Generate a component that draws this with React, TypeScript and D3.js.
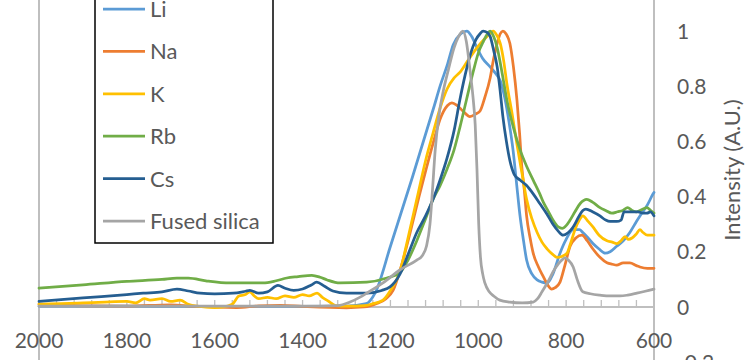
import React from "react";
import * as d3 from "d3";

type Pt = [number, number];

const seriesNames = ["Li", "Na", "K", "Rb", "Cs", "Fused silica"];
const seriesColors = ["#5B9BD5", "#ED7D31", "#FFC000", "#70AD47", "#255E91", "#A5A5A5"];

const xTickLabels = [2000, 1800, 1600, 1400, 1200, 1000, 800, 600];
const yTickLabels = [-0.2, 0, 0.2, 0.4, 0.6, 0.8, 1];

const liPoints: Pt[] = [
  [2000, 0.003], [1800, 0.003], [1600, 0.002], [1400, 0.002], [1300, 0.003], [1255, 0.012],
  [1235, 0.05], [1200, 0.22], [1150, 0.47], [1100, 0.73], [1087, 0.8], [1070, 0.88], [1057, 0.95],
  [1040, 0.99], [1026, 1.0], [1015, 0.98], [1003, 0.94], [990, 0.9], [973, 0.87], [960, 0.845],
  [950, 0.82], [940, 0.76], [930, 0.67], [921, 0.57], [913, 0.45], [905, 0.33], [897, 0.24],
  [890, 0.17], [878, 0.12], [866, 0.098], [855, 0.09], [843, 0.087], [830, 0.12], [814, 0.195],
  [800, 0.245], [784, 0.28], [770, 0.28], [762, 0.27], [750, 0.25], [739, 0.23], [725, 0.21],
  [711, 0.195], [700, 0.2], [685, 0.22], [670, 0.24], [655, 0.27], [640, 0.31], [632, 0.33],
  [615, 0.37], [602, 0.41], [600, 0.415],
];

const naPoints: Pt[] = [
  [2000, 0.01], [1900, 0.004], [1800, 0.003], [1700, 0.008], [1650, 0.003], [1550, -0.002],
  [1500, 0.004], [1450, 0.006], [1400, 0.002], [1300, -0.003], [1260, 0.0], [1231, 0.013],
  [1210, 0.03], [1194, 0.06], [1175, 0.15], [1155, 0.27], [1135, 0.4], [1117, 0.51], [1100, 0.61],
  [1087, 0.68], [1070, 0.73], [1060, 0.74], [1048, 0.73], [1035, 0.71], [1019, 0.69], [1005, 0.7],
  [996, 0.71], [985, 0.76], [973, 0.83], [965, 0.9], [957, 0.955], [950, 0.99], [944, 1.0],
  [937, 0.99], [928, 0.955], [920, 0.87], [912, 0.75], [906, 0.63], [901, 0.51], [895, 0.42],
  [890, 0.33], [882, 0.25], [875, 0.195], [863, 0.145], [852, 0.11], [842, 0.08], [833, 0.065],
  [825, 0.07], [814, 0.09], [803, 0.15], [791, 0.22], [778, 0.25], [764, 0.26], [752, 0.24],
  [739, 0.21], [723, 0.18], [707, 0.16], [695, 0.155], [685, 0.152], [670, 0.16], [655, 0.16],
  [640, 0.15], [632, 0.145], [615, 0.14], [600, 0.14],
];

const kPoints: Pt[] = [
  [2000, 0.01], [1950, 0.012], [1900, 0.015], [1850, 0.018], [1800, 0.02], [1780, 0.015],
  [1760, 0.03], [1747, 0.025], [1720, 0.03], [1700, 0.02], [1679, 0.025], [1660, 0.01],
  [1640, 0.003], [1600, -0.002], [1580, 0.0], [1560, 0.01], [1545, 0.04], [1530, 0.045],
  [1520, 0.055], [1510, 0.04], [1500, 0.03], [1480, 0.035], [1460, 0.03], [1440, 0.04],
  [1420, 0.035], [1400, 0.045], [1385, 0.04], [1367, 0.05], [1355, 0.035], [1340, 0.02],
  [1325, 0.005], [1300, 0.003], [1260, 0.005], [1240, 0.012], [1217, 0.025], [1200, 0.06],
  [1178, 0.13], [1160, 0.25], [1140, 0.39], [1120, 0.53], [1103, 0.63], [1087, 0.72], [1071, 0.79],
  [1055, 0.83], [1042, 0.85], [1025, 0.89], [1012, 0.92], [995, 0.955], [980, 0.98], [966, 1.0],
  [958, 0.985], [950, 0.955], [942, 0.89], [935, 0.81], [923, 0.7], [912, 0.59], [900, 0.48],
  [890, 0.39], [878, 0.32], [866, 0.27], [855, 0.235], [843, 0.21], [830, 0.19], [821, 0.18],
  [810, 0.183], [798, 0.195], [790, 0.23], [780, 0.28], [770, 0.315], [762, 0.33], [750, 0.31],
  [739, 0.29], [725, 0.26], [707, 0.24], [695, 0.235], [685, 0.23], [675, 0.24], [666, 0.255],
  [658, 0.245], [650, 0.25], [640, 0.265], [632, 0.28], [625, 0.27], [615, 0.26], [600, 0.26],
];

const rbPoints: Pt[] = [
  [2000, 0.068], [1900, 0.08], [1800, 0.093], [1720, 0.1], [1686, 0.105], [1660, 0.105],
  [1620, 0.095], [1565, 0.087], [1520, 0.087], [1490, 0.087], [1460, 0.095], [1436, 0.105],
  [1410, 0.11], [1379, 0.115], [1360, 0.108], [1344, 0.098], [1315, 0.087], [1254, 0.09],
  [1208, 0.105], [1178, 0.125], [1160, 0.17], [1140, 0.24], [1120, 0.32], [1103, 0.39],
  [1087, 0.44], [1071, 0.5], [1055, 0.57], [1042, 0.65], [1027, 0.75], [1012, 0.85], [1000, 0.92],
  [989, 0.96], [973, 1.0], [965, 0.98], [957, 0.94], [946, 0.85], [935, 0.75], [920, 0.65],
  [905, 0.57], [890, 0.51], [875, 0.46], [860, 0.41], [852, 0.38], [840, 0.345], [830, 0.315],
  [818, 0.29], [809, 0.285], [800, 0.295], [791, 0.315], [780, 0.345], [768, 0.375], [753, 0.39],
  [740, 0.38], [723, 0.36], [710, 0.35], [696, 0.34], [683, 0.345], [671, 0.35], [660, 0.36],
  [650, 0.35], [640, 0.345], [625, 0.355], [616, 0.36], [608, 0.35], [600, 0.34],
];

const csPoints: Pt[] = [
  [2000, 0.02], [1900, 0.033], [1800, 0.045], [1763, 0.05], [1720, 0.055], [1686, 0.065],
  [1660, 0.058], [1633, 0.05], [1600, 0.048], [1558, 0.05], [1530, 0.057], [1520, 0.06],
  [1500, 0.05], [1480, 0.055], [1456, 0.078], [1440, 0.068], [1420, 0.06], [1400, 0.065],
  [1380, 0.08], [1368, 0.09], [1350, 0.075], [1331, 0.058], [1300, 0.05], [1254, 0.05],
  [1220, 0.06], [1201, 0.073], [1190, 0.09], [1178, 0.12], [1160, 0.19], [1140, 0.27],
  [1120, 0.33], [1103, 0.39], [1087, 0.46], [1071, 0.54], [1055, 0.64], [1042, 0.75], [1030, 0.84],
  [1019, 0.91], [1005, 0.97], [996, 0.99], [989, 1.0], [980, 0.995], [973, 0.98], [965, 0.93],
  [957, 0.87], [950, 0.78], [944, 0.69], [936, 0.6], [928, 0.53], [918, 0.48], [905, 0.46],
  [890, 0.44], [875, 0.41], [860, 0.375], [845, 0.34], [830, 0.3], [818, 0.275], [807, 0.26],
  [795, 0.27], [784, 0.29], [772, 0.325], [762, 0.35], [755, 0.355], [740, 0.345], [723, 0.33],
  [710, 0.315], [700, 0.31], [685, 0.31], [675, 0.315], [668, 0.345], [655, 0.345], [645, 0.345],
  [636, 0.345], [625, 0.34], [616, 0.34], [608, 0.345], [600, 0.33],
];

const silicaPoints: Pt[] = [
  [2000, 0.003], [1800, 0.003], [1600, 0.003], [1400, 0.003], [1320, 0.005], [1292, 0.018],
  [1270, 0.035], [1254, 0.05], [1217, 0.087], [1178, 0.135], [1140, 0.17], [1128, 0.185],
  [1118, 0.22], [1110, 0.3], [1104, 0.43], [1098, 0.57], [1090, 0.69], [1080, 0.78], [1068, 0.86],
  [1055, 0.94], [1045, 0.98], [1035, 1.0], [1027, 0.96], [1019, 0.86], [1012, 0.76], [1007, 0.66],
  [1003, 0.5], [999, 0.3], [995, 0.18], [990, 0.12], [985, 0.087], [975, 0.055], [965, 0.04],
  [951, 0.025], [928, 0.018], [900, 0.015], [875, 0.018], [865, 0.03], [855, 0.055], [843, 0.087],
  [825, 0.14], [810, 0.17], [802, 0.178], [795, 0.17], [784, 0.145], [775, 0.1], [762, 0.055],
  [745, 0.048], [723, 0.043], [700, 0.04], [677, 0.04], [660, 0.043], [639, 0.05], [620, 0.057],
  [600, 0.065],
];

const allSeries: Pt[][] = [liPoints, naPoints, kPoints, rbPoints, csPoints, silicaPoints];

const W = 750;
const H = 360;
const FONT = "Lato, 'Open Sans', sans-serif";
const TEXT = "#595959";
const AXIS = "#BFBFBF";

export default function App() {
  const x = d3.scaleLinear().domain([2000, 600]).range([39, 654]);
  const y = d3.scaleLinear().domain([0, 1]).range([307, 31]);
  const line = d3
    .line<Pt>()
    .x((d) => x(d[0]))
    .y((d) => y(d[1]))
    .curve(d3.curveMonotoneX);

  const minorTicks = d3.range(2000, 599, -40);

  return (
    <svg
      width={W}
      height={H}
      style={{ position: "absolute", left: 0, top: 0, background: "#fff" }}
      fontFamily={FONT}
    >
      <rect x={0} y={0} width={W} height={H} fill="#fff" />
      <line x1={x(2000)} x2={x(2000)} y1={0} y2={H} stroke={AXIS} strokeWidth={2} />
      <line x1={x(600)} x2={x(600)} y1={0} y2={H} stroke={AXIS} strokeWidth={2} />
      <line x1={x(2000)} x2={x(600)} y1={y(0)} y2={y(0)} stroke={AXIS} strokeWidth={2} />
      {minorTicks.map((t) => (
        <line key={t} x1={x(t)} x2={x(t)} y1={y(0)} y2={y(0) - 7} stroke={AXIS} strokeWidth={1.3} />
      ))}
      {xTickLabels.map((t) => (
        <text key={t} x={x(t)} y={348} textAnchor="middle" fontSize={21} fill={TEXT}>
          {t}
        </text>
      ))}
      {yTickLabels.map((t) => (
        <text key={t} x={677} y={y(t) + 7.5} textAnchor="start" fontSize={21} fill={TEXT}>
          {t === 0 ? "0" : t.toString()}
        </text>
      ))}
      <text
        transform={`translate(740,170) rotate(-90)`}
        textAnchor="middle"
        fontSize={22}
        fill={TEXT}
      >
        Intensity (A.U.)
      </text>
      {allSeries.map((pts, i) => (
        <path
          key={seriesNames[i]}
          d={line(pts) || ""}
          fill="none"
          stroke={seriesColors[i]}
          strokeWidth={2.75}
          strokeLinejoin="round"
          strokeLinecap="round"
        />
      ))}
      <rect x={95} y={-10} width={178} height={253} fill="#fff" stroke="#000" strokeWidth={1.5} />
      {seriesNames.map((name, i) => {
        const cy = 9 + i * 42.4;
        return (
          <g key={name}>
            <line x1={103} x2={145} y1={cy} y2={cy} stroke={seriesColors[i]} strokeWidth={2.75} />
            <text x={150} y={cy + 8} fontSize={22} fill={TEXT}>
              {name}
            </text>
          </g>
        );
      })}
    </svg>
  );
}
